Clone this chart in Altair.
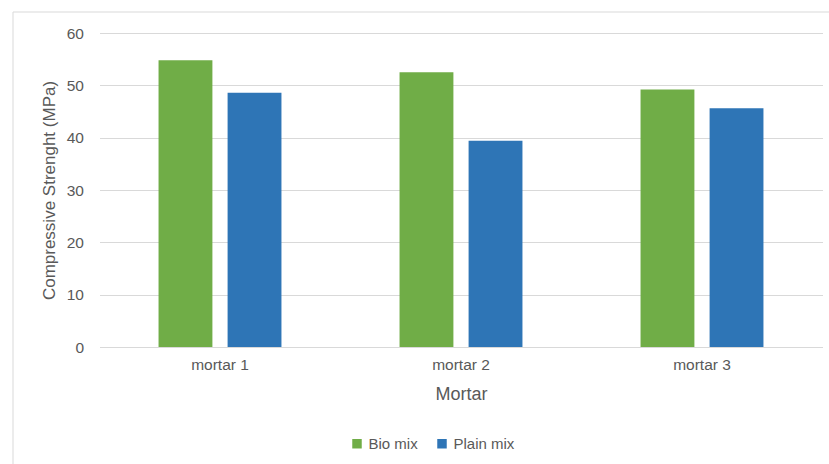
import altair as alt
import pandas as pd

mortars = ["mortar 1", "mortar 2", "mortar 3"]
bio_mix = [54.8, 52.5, 49.2]
plain_mix = [48.6, 39.4, 45.6]
series = ["Bio mix", "Plain mix"]
colors = ["#70ad47", "#2e75b6"]

rows = []
for m, b, p in zip(mortars, bio_mix, plain_mix):
    rows.append({"Mortar": m, "Mix": "Bio mix", "Value": b})
    rows.append({"Mortar": m, "Mix": "Plain mix", "Value": p})
df = pd.DataFrame(rows)

FONT = "Liberation Sans"
GREY = "#595959"

bars = alt.Chart(df).mark_bar().encode(
    x=alt.X("Mortar:N", sort=mortars,
            scale=alt.Scale(paddingInner=0.49, paddingOuter=0.245),
            axis=alt.Axis(title="Mortar", labelAngle=0, ticks=False,
                          domainColor="#d9d9d9", labelPadding=10,
                          titlePadding=13, labelFontSize=15.5, titleFontSize=18,
                          titleFontWeight="normal", labelColor=GREY, titleColor=GREY)),
    xOffset=alt.XOffset("Mix:N", sort=series,
                        scale=alt.Scale(paddingInner=0.22, paddingOuter=0)),
    y=alt.Y("Value:Q", scale=alt.Scale(domain=[0, 60]),
            axis=alt.Axis(title="Compressive Strenght (MPa)", values=[0, 10, 20, 30, 40, 50, 60],
                          ticks=False, domain=False, gridColor="#d9d9d9",
                          labelPadding=16, titlePadding=8, labelFontSize=15.5,
                          titleFontSize=17, titleFontWeight="normal",
                          labelColor=GREY, titleColor=GREY)),
    color=alt.Color("Mix:N", sort=series,
                    scale=alt.Scale(domain=series, range=colors),
                    legend=alt.Legend(title=None, orient="none", direction="horizontal",
                                      legendX=250, legendY=403,
                                      symbolType="square", symbolSize=90,
                                      labelFontSize=15, labelColor=GREY,
                                      columnPadding=16, symbolStrokeWidth=0)),
)

frame = alt.Chart(pd.DataFrame({"a": [0]})).mark_rule(color="#d9d9d9", strokeWidth=1).encode(
    x=alt.value(-86.5), x2=alt.value(760), y=alt.value(-21), y2=alt.value(-21)
)
frame2 = alt.Chart(pd.DataFrame({"a": [0]})).mark_rule(color="#d9d9d9", strokeWidth=1).encode(
    x=alt.value(-86.5), x2=alt.value(-86.5), y=alt.value(-21), y2=alt.value(140 + 314)
)

chart = alt.layer(frame, frame2, bars).properties(
    width=723, height=314,
    padding={"left": 99.5, "top": 33, "right": 6.5, "bottom": 117},
    autosize=alt.AutoSizeParams(type="none"),
).configure(font=FONT).configure_view(stroke=None)

chart.save("out.html", embed_options={"renderer": "svg", "actions": False})
